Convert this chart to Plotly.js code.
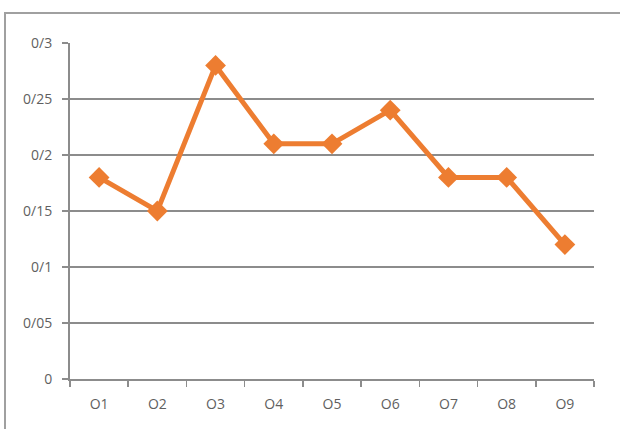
<!DOCTYPE html>
<html>
<head>
<meta charset="utf-8">
<script src="https://cdn.plot.ly/plotly-3.0.1.min.js"></script>
<style>
  html, body { margin: 0; padding: 0; background: #ffffff; overflow: hidden; }
  #wrap { position: relative; width: 620px; height: 429px; }
  #frame { position: absolute; left: 4px; top: 12px; width: 700px; height: 500px;
           border: 2px solid #a0a0a0; box-sizing: border-box; }
  #chart { position: absolute; left: 0; top: 0; width: 620px; height: 429px; }
</style>
</head>
<body>
<div id="wrap">
  <div id="frame"></div>
  <div id="chart"></div>
</div>
<script>
// Series values per category
const categories = ["O1", "O2", "O3", "O4", "O5", "O6", "O7", "O8", "O9"];
const values = [0.18, 0.15, 0.28, 0.21, 0.21, 0.24, 0.18, 0.18, 0.12];

// Y tick labels use "/" as the decimal separator
const yTickVals = [0, 0.05, 0.1, 0.15, 0.2, 0.25, 0.3];
const yTickText = ["0", "0/05", "0/1", "0/15", "0/2", "0/25", "0/3"];

const trace = {
  type: "scatter",
  mode: "lines+markers",
  x: categories,
  y: values,
  line: { color: "#ED7D31", width: 5 },
  marker: { symbol: "diamond", size: 16, color: "#ED7D31" },
  hoverinfo: "skip"
};

const layout = {
  width: 620,
  height: 429,
  margin: { l: 70, r: 26, t: 43, b: 50 },
  paper_bgcolor: "rgba(0,0,0,0)",
  plot_bgcolor: "rgba(0,0,0,0)",
  showlegend: false,
  font: { family: "Open Sans, sans-serif", size: 14, color: "#5f5f5f" },
  xaxis: {
    type: "category",
    range: [-0.5, 8.5],
    tickson: "boundaries",
    ticks: "outside",
    ticklen: 6,
    tickwidth: 1.5,
    tickcolor: "#8c8c8c",
    showgrid: false,
    showline: true,
    linecolor: "#8c8c8c",
    linewidth: 2,
    zeroline: false,
    ticklabelstandoff: 11,
    tickfont: { size: 14, color: "#5f5f5f" }
  },
  yaxis: {
    range: [0, 0.3],
    tickmode: "array",
    tickvals: yTickVals,
    ticktext: yTickText,
    ticks: "outside",
    ticklen: 6,
    tickwidth: 1.5,
    tickcolor: "#8c8c8c",
    showgrid: true,
    gridcolor: "#8c8c8c",
    gridwidth: 1.5,
    showline: true,
    linecolor: "#8c8c8c",
    linewidth: 2,
    zeroline: false,
    ticklabelstandoff: 7,
    tickfont: { size: 14, color: "#5f5f5f" }
  }
};

Plotly.newPlot("chart", [trace], layout, { staticPlot: true, displayModeBar: false });
</script>
</body>
</html>
